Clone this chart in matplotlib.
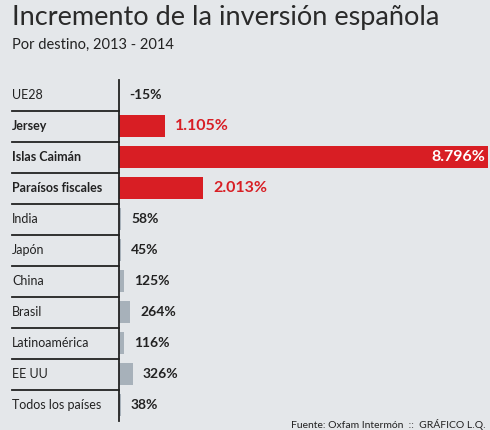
import matplotlib.pyplot as plt
import matplotlib.transforms as mtransforms

# data
destinos = ["UE28", "Jersey", "Islas Caimán", "Paraísos fiscales", "India", "Japón",
            "China", "Brasil", "Latinoamérica", "EE UU", "Todos los países"]
incremento = [-15, 1105, 8796, 2013, 58, 45, 125, 264, 116, 326, 38]
etiquetas = ["-15%", "1.105%", "8.796%", "2.013%", "58%", "45%",
             "125%", "264%", "116%", "326%", "38%"]
paraisos = ["Jersey", "Islas Caimán", "Paraísos fiscales"]

BG = "#e4e7ea"
RED = "#d81e24"
GREY = "#a7b1ba"
DARK = "#222222"
plt.rcParams['font.family'] = ['Lato', 'DejaVu Sans']

W, H = 490, 430
fig = plt.figure(figsize=(W / 100, H / 100), dpi=100, facecolor=BG)

# axes placed in pixel coords: x 119..488, y 79.5..420.5
ax = fig.add_axes([119 / W, 1 - 420.5 / H, (488 - 119) / W, 341 / H])
ax.set_facecolor(BG)
n = len(destinos)
ypos = list(range(n))
colors = [RED if d in paraisos else GREY for d in destinos]
ax.barh(ypos, incremento, height=0.72, color=colors, zorder=2)
ax.set_xlim(0, 8796)
ax.set_ylim(n - 0.5, -0.5)
for s in ["top", "right", "bottom"]:
    ax.spines[s].set_visible(False)
ax.spines["left"].set_color(DARK)
ax.spines["left"].set_linewidth(1.3)
ax.set_xticks([])
ax.set_yticks([])

# separators & labels in label column
trans = mtransforms.blended_transform_factory(ax.transAxes, ax.transData)
x_lab = -107 / 369
for i, (d, v, lab) in enumerate(zip(destinos, incremento, etiquetas)):
    ax.text(x_lab, i, d, transform=trans, ha="left", va="center", fontsize=9,
            fontweight="bold" if d in paraisos else "normal", color=DARK)
    if i < n - 1:
        ax.plot([x_lab, 0], [i + 0.5, i + 0.5], transform=trans, color=DARK,
                lw=1.3, clip_on=False)
    if d == "Islas Caimán":
        ax.text(v - 60, i, lab, ha="right", va="center", fontsize=11.5,
                fontweight="bold", color="white", zorder=3)
    elif d in paraisos:
        ax.text(v + 230, i, lab, ha="left", va="center", fontsize=11.5,
                fontweight="bold", color=RED, zorder=3)
    else:
        ax.text(max(v, 0) + 240, i, lab, ha="left", va="center", fontsize=10,
                fontweight="bold", color=DARK, zorder=3)

fig.text(12 / W, 1 - 5 / H, "Incremento de la inversión española", ha="left",
         va="top", fontsize=19.5, fontweight="normal", color="#2a2a2a")
fig.text(12 / W, 1 - 45 / H, "Por destino, 2013 - 2014", ha="left",
         va="center", fontsize=10.5, color=DARK)
fig.text(486 / W, 0, "Fuente: Oxfam Intermón  ::  GRÁFICO L.Q.", ha="right",
         va="bottom", fontsize=7.5, color=DARK)

fig.savefig("out.png", dpi=100, facecolor=BG)
